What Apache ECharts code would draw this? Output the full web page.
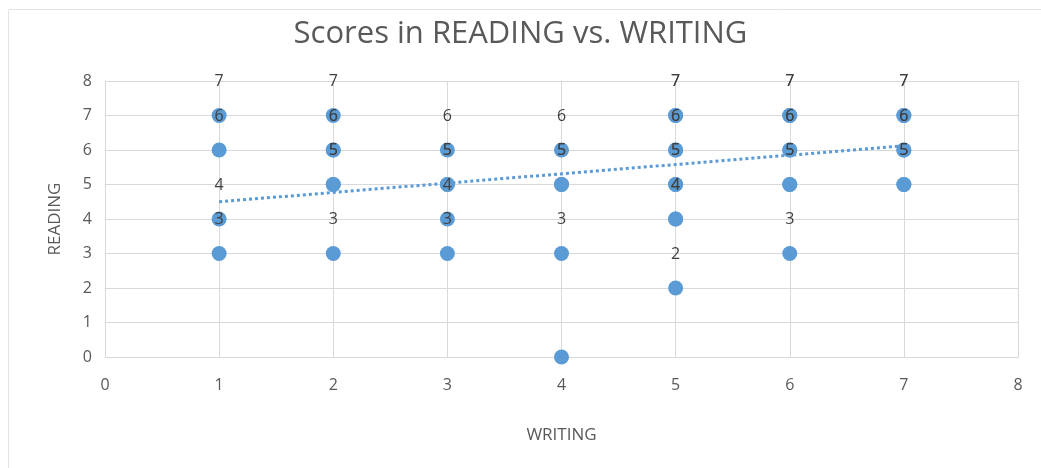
<!DOCTYPE html>
<html>
<head>
<meta charset="utf-8">
<script src="https://cdn.jsdelivr.net/npm/echarts@6/dist/echarts.min.js"></script>
<style>
html,body{margin:0;padding:0;background:#fff;}
#c{width:1041px;height:468px;}
</style>
</head>
<body>
<div id="c"></div>
<script>
// WRITING (x) and READING (y) scores; repeated pairs are drawn on top of each other
const writing = [1,1,1,1, 2,2,2,2,2,2, 3,3,3,3,3, 4,4,4,4,4, 5,5,5,5,5,5,5,5,5, 6,6,6,6,6,6,6, 7,7,7,7,7,7];
const reading = [7,6,4,3, 7,6,6,5,5,3, 6,5,5,4,3, 6,5,5,3,0, 7,7,6,6,5,5,4,4,2, 7,7,6,6,5,5,3, 7,7,6,6,5,5];
// Linear trendline
const trendX = [1, 7];
const trendY = [4.5, 6.12];
const xTicks = [0,1,2,3,4,5,6,7,8];
const yTicks = [0,1,2,3,4,5,6,7,8];

const chart = echarts.init(document.getElementById('c'));
const font = '"Open Sans", "Noto Sans", sans-serif';
const points = writing.map((x, i) => [x, reading[i]]);
const trend = trendX.map((x, i) => [x, trendY[i]]);

chart.setOption({
  animation: false,
  backgroundColor: '#ffffff',
  graphic: [{
    type: 'rect', silent: true, z: -10,
    shape: { x: 8.5, y: 9.5, width: 1040, height: 470 },
    style: { fill: 'none', stroke: '#e3e3e3', lineWidth: 1 }
  }],
  title: {
    text: 'Scores in READING vs. WRITING',
    left: 'center', top: 14,
    textStyle: { fontFamily: font, fontSize: 31, fontWeight: 'normal', color: '#595959' }
  },
  grid: { left: 105, right: 23, top: 81, bottom: 111 },
  xAxis: {
    type: 'value', min: xTicks[0], max: xTicks[xTicks.length - 1], interval: 1,
    name: 'WRITING', nameLocation: 'middle', nameGap: 70,
    nameTextStyle: { fontFamily: font, fontSize: 17, color: '#595959' },
    axisLine: { show: true, lineStyle: { color: '#d9d9d9', width: 1 } },
    axisTick: { show: false },
    axisLabel: { fontFamily: font, fontSize: 16, color: '#595959', margin: 20 },
    splitLine: { show: true, lineStyle: { color: '#d9d9d9', width: 1 } }
  },
  yAxis: {
    type: 'value', min: yTicks[0], max: yTicks[yTicks.length - 1], interval: 1,
    name: 'READING', nameLocation: 'middle', nameGap: 41,
    nameTextStyle: { fontFamily: font, fontSize: 17, color: '#595959' },
    axisLine: { show: true, lineStyle: { color: '#d9d9d9', width: 1 } },
    axisTick: { show: false },
    axisLabel: { fontFamily: font, fontSize: 16, color: '#595959', margin: 13 },
    splitLine: { show: true, lineStyle: { color: '#d9d9d9', width: 1 } }
  },
  series: [{
    type: 'scatter',
    data: points,
    symbolSize: 15,
    itemStyle: { color: '#5b9bd5', opacity: 1 },
    label: {
      show: true,
      position: 'inside',
      offset: [0, -34],
      fontFamily: font, fontSize: 16, color: '#404040',
      formatter: p => (p.value[1] === 0 ? '' : String(p.value[1]))
    },
    z: 3
  }, {
    type: 'line',
    data: trend,
    symbol: 'none',
    lineStyle: { color: '#5b9bd5', width: 3, type: [3, 3] },
    z: 2
  }]
});
</script>
</body>
</html>
